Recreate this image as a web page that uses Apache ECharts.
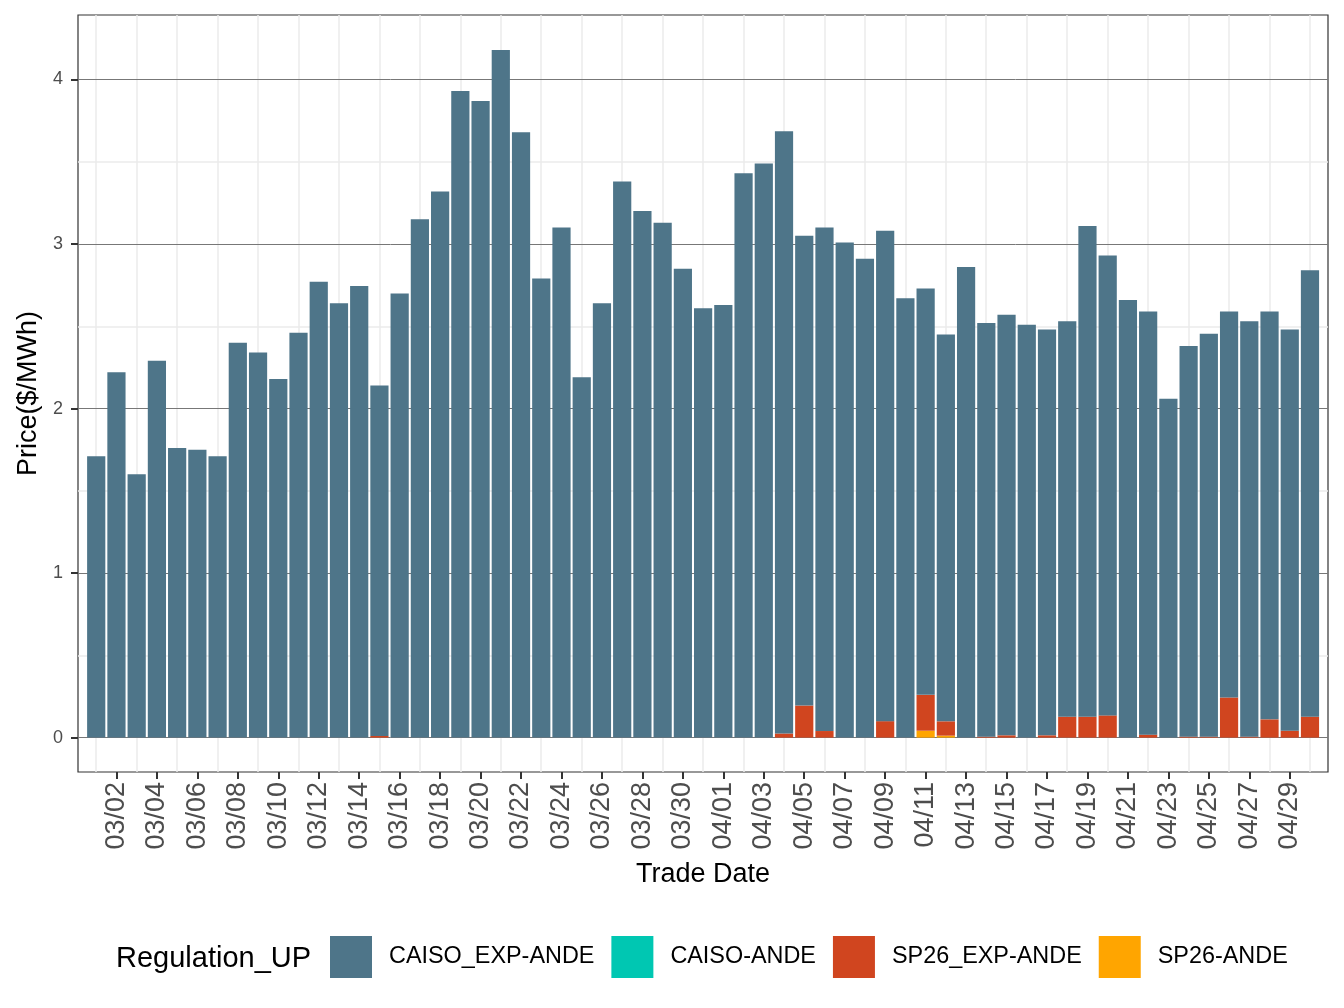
<!DOCTYPE html>
<html>
<head>
<meta charset="utf-8">
<script src="https://cdn.jsdelivr.net/npm/echarts@6/dist/echarts.min.js"></script>
<style>
  html, body { margin: 0; padding: 0; background: #fff; }
  #chart { width: 1344px; height: 1008px; }
</style>
</head>
<body>
<div id="chart"></div>
<script>
// trade dates, one bar each
const dates = [
  "03/01", "03/02", "03/03", "03/04", "03/05", "03/06", "03/07", "03/08", "03/09", "03/10",
  "03/11", "03/12", "03/13", "03/14", "03/15", "03/16", "03/17", "03/18", "03/19", "03/20",
  "03/21", "03/22", "03/23", "03/24", "03/25", "03/26", "03/27", "03/28", "03/29", "03/30",
  "03/31", "04/01", "04/02", "04/03", "04/04", "04/05", "04/06", "04/07", "04/08", "04/09",
  "04/10", "04/11", "04/12", "04/13", "04/14", "04/15", "04/16", "04/17", "04/18", "04/19",
  "04/20", "04/21", "04/22", "04/23", "04/24", "04/25", "04/26", "04/27", "04/28", "04/29",
  "04/30"
];

const caisoExp = [
  1.71, 2.22, 1.60, 2.29, 1.76, 1.75, 1.71, 2.40, 2.34, 2.18,
  2.46, 2.77, 2.64, 2.745, 2.13, 2.70, 3.15, 3.32, 3.93, 3.87,
  4.18, 3.68, 2.79, 3.10, 2.19, 2.64, 3.38, 3.20, 3.13, 2.85,
  2.61, 2.63, 3.43, 3.49, 3.66, 2.855, 3.06, 3.01, 2.91, 2.98,
  2.67, 2.47, 2.351, 2.86, 2.514, 2.556, 2.51, 2.466, 2.403, 2.983,
  2.795, 2.66, 2.572, 2.06, 2.374, 2.449, 2.346, 2.524, 2.479, 2.438,
  2.713
];

const caiso = new Array(61).fill(0);

const sp26Exp = [
  0, 0, 0, 0, 0, 0, 0, 0, 0, 0,
  0, 0, 0, 0, 0.01, 0, 0, 0, 0, 0,
  0, 0, 0, 0, 0, 0, 0, 0, 0, 0,
  0, 0, 0, 0, 0.025, 0.195, 0.04, 0, 0, 0.10,
  0, 0.218, 0.087, 0, 0.006, 0.014, 0, 0.014, 0.127, 0.127,
  0.135, 0, 0.018, 0, 0.006, 0.006, 0.244, 0.006, 0.111, 0.042,
  0.127
];

const sp26 = [
  0, 0, 0, 0, 0, 0, 0, 0, 0, 0,
  0, 0, 0, 0, 0, 0, 0, 0, 0, 0,
  0, 0, 0, 0, 0, 0, 0, 0, 0, 0,
  0, 0, 0, 0, 0, 0, 0, 0, 0, 0,
  0, 0.042, 0.012, 0, 0, 0, 0, 0, 0, 0,
  0, 0, 0, 0, 0, 0, 0, 0, 0, 0,
  0
];

const yTicks = [0, 1, 2, 3, 4];
const yMinor = [0.5, 1.5, 2.5, 3.5];

const names = ["CAISO_EXP-ANDE", "CAISO-ANDE", "SP26_EXP-ANDE", "SP26-ANDE"];
const colors = {
  "CAISO_EXP-ANDE": "#4e7589",
  "CAISO-ANDE": "#00c7b2",
  "SP26_EXP-ANDE": "#d0451f",
  "SP26-ANDE": "#ffa500"
};

const font = "Liberation Sans, Arial, sans-serif";
const Y_MIN = -0.209;
const Y_MAX = 4.392;
// day positions for the vertical grid lines (every other day, from the first one)
const evenIdx = dates.map((d, i) => i).filter(i => i % 2 === 0);

function barSeries(name, values) {
  return {
    name: name,
    type: "bar",
    stack: "total",
    xAxisIndex: 1,
    yAxisIndex: 1,
    barWidth: "90%",
    itemStyle: { color: colors[name] },
    emphasis: { disabled: true },
    data: values
  };
}

const chart = echarts.init(document.getElementById("chart"), null, { renderer: "canvas" });

const option = {
  animation: false,
  backgroundColor: "#fff",
  textStyle: { fontFamily: font },
  title: {
    text: "Regulation_UP",
    left: 111,
    top: 939,
    textStyle: { fontFamily: font, fontSize: 29, fontWeight: "normal", color: "#000" }
  },
  legend: {
    data: names,
    left: 325,
    top: 931,
    icon: "rect",
    itemWidth: 42,
    itemHeight: 42,
    itemGap: 17,
    textStyle: { fontFamily: font, fontSize: 23.4, color: "#000", padding: [0, 0, 0, 12] }
  },
  grid: [
    // panel: frame and grid lines
    {
      left: 78, top: 15, width: 1250, height: 757,
      outerBoundsMode: "none",
      show: true, borderColor: "#333", borderWidth: 1.2, backgroundColor: "#fff"
    },
    // bars
    {
      left: 86.1, top: 15, width: 1234, height: 757,
      outerBoundsMode: "none"
    },
    // y labels: same scale, but starting at zero
    {
      left: 78, top: 15, width: 1250, height: 723,
      outerBoundsMode: "none"
    },
    // narrow strip left of the panel for the y ticks
    {
      left: 71, top: 15, width: 7, height: 757,
      outerBoundsMode: "none"
    }
  ],
  xAxis: [
    {
      gridIndex: 0,
      type: "value",
      min: -0.9,
      max: 60.9,
      show: false
    },
    {
      gridIndex: 1,
      type: "category",
      data: dates,
      boundaryGap: true,
      name: "Trade Date",
      nameLocation: "middle",
      nameGap: 89,
      nameTextStyle: { fontFamily: font, fontSize: 27, color: "#000" },
      axisLine: { show: false, onZero: false },
      splitLine: { show: false },
      axisTick: {
        show: true,
        alignWithLabel: true,
        interval: i => i % 2 === 1,
        length: 7,
        lineStyle: { color: "#333", width: 2 }
      },
      axisLabel: {
        interval: i => i % 2 === 1,
        rotate: 90,
        margin: 10,
        fontSize: 27,
        color: "#4d4d4d"
      }
    },
    { gridIndex: 2, type: "value", min: 0, max: 1, show: false },
    { gridIndex: 3, type: "value", min: 0, max: 1, show: false }
  ],
  yAxis: [
    {
      gridIndex: 0,
      type: "value",
      min: Y_MIN,
      max: Y_MAX,
      name: "Price($/MWh)",
      nameLocation: "middle",
      nameGap: 36,
      nameTextStyle: { fontFamily: font, fontSize: 27, color: "#000" },
      axisLine: { show: false, onZero: false },
      axisTick: { show: false },
      axisLabel: { show: false },
      splitLine: { show: false }
    },
    {
      gridIndex: 1,
      type: "value",
      min: Y_MIN,
      max: Y_MAX,
      show: false
    },
    {
      gridIndex: 2,
      type: "value",
      min: 0,
      max: Y_MAX,
      interval: 1,
      axisLine: { show: false, onZero: false },
      splitLine: { show: false },
      axisTick: { show: false },
      axisLabel: { showMaxLabel: false, margin: 15, fontSize: 18, color: "#4d4d4d" }
    },
    {
      gridIndex: 3,
      type: "value",
      min: Y_MIN,
      max: Y_MAX,
      show: false
    }
  ],
  series: [
    {
      name: "grid",
      type: "line",
      xAxisIndex: 0,
      yAxisIndex: 0,
      data: [],
      silent: true,
      markLine: {
        silent: true,
        symbol: "none",
        z: 1,
        label: { show: false },
        emphasis: { disabled: true },
        data: [].concat(
          evenIdx.map(i => ({ xAxis: i, lineStyle: { color: "#ebebeb", width: 1.5, type: "solid" } })),
          yMinor.map(v => ({ yAxis: v, lineStyle: { color: "#ebebeb", width: 1.5, type: "solid" } })),
          yTicks.map(v => ({ yAxis: v, lineStyle: { color: "#777", width: 1, type: "solid" } }))
        )
      }
    },
    {
      name: "yticks",
      type: "line",
      xAxisIndex: 3,
      yAxisIndex: 3,
      data: [],
      silent: true,
      markLine: {
        silent: true,
        symbol: "none",
        label: { show: false },
        emphasis: { disabled: true },
        lineStyle: { color: "#333", width: 2, type: "solid" },
        data: yTicks.map(v => ({ yAxis: v }))
      }
    },
    barSeries("SP26-ANDE", sp26),
    barSeries("SP26_EXP-ANDE", sp26Exp),
    barSeries("CAISO-ANDE", caiso),
    barSeries("CAISO_EXP-ANDE", caisoExp)
  ]
};

chart.setOption(option);
window.addEventListener("resize", function () {
  chart.resize();
});
</script>
</body>
</html>
